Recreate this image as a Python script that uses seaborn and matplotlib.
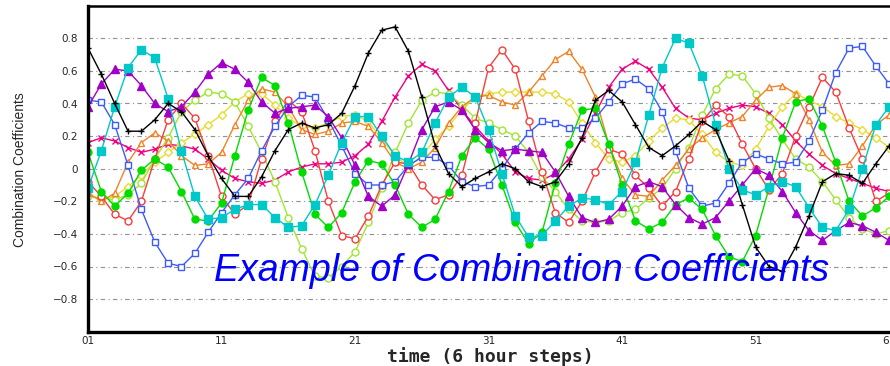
import numpy as np
import pandas as pd
import seaborn as sns
import matplotlib.pyplot as plt

# time steps 1..61
steps = list(range(1, 62))

black = [0.74, 0.58, 0.40, 0.23, 0.23, 0.30, 0.40, 0.35, 0.24, 0.08,
         -0.06, -0.17, -0.17, -0.05, 0.11, 0.24, 0.28, 0.25, 0.27, 0.34,
         0.51, 0.71, 0.85, 0.87, 0.72, 0.44, 0.14, -0.03, -0.11, -0.06,
         -0.02, 0.03, 0.00, -0.08, -0.11, -0.08, 0.03, 0.19, 0.42, 0.48,
         0.41, 0.27, 0.13, 0.08, 0.14, 0.21, 0.29, 0.24, 0.05, -0.22,
         -0.48, -0.60, -0.63, -0.48, -0.29, -0.08, -0.03, -0.04, -0.09, 0.03, 0.14]
cyan = [-0.12, 0.11, 0.38, 0.62, 0.73, 0.68, 0.43, 0.11, -0.17, -0.31,
        -0.30, -0.25, -0.22, -0.22, -0.30, -0.36, -0.35, -0.22, -0.04, 0.16,
        0.32, 0.32, 0.20, 0.08, 0.04, 0.10, 0.28, 0.44, 0.50, 0.44,
        0.24, -0.03, -0.29, -0.42, -0.41, -0.32, -0.23, -0.18, -0.19, -0.22,
        -0.14, 0.04, 0.33, 0.62, 0.80, 0.77, 0.57, 0.27, 0.00, -0.13,
        -0.16, -0.11, -0.08, -0.11, -0.24, -0.36, -0.38, -0.25, 0.00, 0.27, 0.38]
purple = [0.38, 0.52, 0.61, 0.60, 0.51, 0.40, 0.35, 0.38, 0.47, 0.58,
          0.65, 0.61, 0.53, 0.41, 0.34, 0.37, 0.38, 0.39, 0.32, 0.19,
          0.02, -0.17, -0.23, -0.16, 0.03, 0.24, 0.38, 0.41, 0.36, 0.24,
          0.16, 0.11, 0.12, 0.11, 0.10, -0.02, -0.17, -0.30, -0.33, -0.31,
          -0.23, -0.11, -0.08, -0.11, -0.22, -0.30, -0.34, -0.30, -0.20, -0.10,
          0.00, -0.04, -0.14, -0.27, -0.38, -0.44, -0.38, -0.33, -0.35, -0.39, -0.44]
blue = [0.42, 0.41, 0.27, 0.02, -0.25, -0.45, -0.58, -0.60, -0.52, -0.39,
        -0.27, -0.16, -0.06, 0.11, 0.26, 0.38, 0.45, 0.44, 0.30, 0.14,
        -0.03, -0.10, -0.10, -0.08, 0.02, 0.07, 0.07, 0.02, -0.08, -0.11,
        -0.10, 0.00, 0.12, 0.22, 0.29, 0.28, 0.25, 0.25, 0.31, 0.41,
        0.52, 0.55, 0.49, 0.35, 0.11, -0.12, -0.23, -0.21, -0.09, 0.04,
        0.09, 0.06, 0.03, 0.04, 0.17, 0.36, 0.59, 0.74, 0.75, 0.63, 0.52]
red = [-0.08, -0.17, -0.28, -0.32, -0.20, 0.06, 0.30, 0.40, 0.31, 0.08,
       -0.17, -0.28, -0.22, 0.06, 0.29, 0.42, 0.35, 0.11, -0.20, -0.41,
       -0.43, -0.29, -0.10, 0.04, 0.03, -0.10, -0.19, -0.16, -0.04, 0.28,
       0.62, 0.73, 0.61, 0.29, -0.02, -0.27, -0.33, -0.20, -0.02, 0.12,
       0.09, -0.04, -0.12, -0.23, -0.14, 0.06, 0.29, 0.39, 0.32, 0.15,
       0.00, -0.13, -0.03, 0.20, 0.38, 0.56, 0.47, 0.25, 0.06, -0.20, -0.15]
orange = [-0.15, -0.20, -0.15, 0.04, 0.16, 0.22, 0.17, 0.08, 0.02, 0.03,
          0.10, 0.27, 0.42, 0.49, 0.47, 0.38, 0.24, 0.21, 0.23, 0.28,
          0.29, 0.26, 0.16, 0.04, 0.00, 0.04, 0.13, 0.28, 0.38, 0.44,
          0.45, 0.41, 0.39, 0.47, 0.57, 0.67, 0.72, 0.61, 0.44, 0.15,
          -0.06, -0.16, -0.17, -0.07, 0.02, 0.12, 0.19, 0.24, 0.28, 0.32,
          0.42, 0.50, 0.51, 0.46, 0.30, 0.10, 0.02, 0.03, 0.14, 0.27, 0.33]
lightgreen = [-0.17, -0.18, -0.19, -0.16, -0.09, 0.06, 0.19, 0.35, 0.42, 0.47,
              0.46, 0.41, 0.26, 0.10, -0.08, -0.30, -0.49, -0.66, -0.67, -0.60,
              -0.51, -0.33, -0.12, 0.10, 0.28, 0.42, 0.47, 0.46, 0.39, 0.31,
              0.28, 0.24, 0.20, 0.10, -0.05, -0.14, -0.25, -0.32, -0.33, -0.32,
              -0.27, -0.25, -0.18, -0.12, 0.00, 0.13, 0.33, 0.49, 0.58, 0.57,
              0.46, 0.31, 0.18, 0.06, 0.01, -0.08, -0.19, -0.30, -0.37, -0.40, -0.38]
yellow = [-0.16, -0.19, -0.17, -0.11, -0.04, 0.04, 0.10, 0.16, 0.21, 0.27,
          0.33, 0.41, 0.46, 0.46, 0.39, 0.31, 0.26, 0.25, 0.28, 0.32,
          0.33, 0.29, 0.18, 0.08, 0.01, 0.08, 0.18, 0.26, 0.36, 0.44,
          0.46, 0.47, 0.47, 0.47, 0.47, 0.46, 0.41, 0.28, 0.16, 0.06,
          0.04, 0.08, 0.17, 0.25, 0.31, 0.30, 0.21, 0.10, 0.04, 0.02,
          0.12, 0.26, 0.38, 0.46, 0.42, 0.38, 0.32, 0.28, 0.24, 0.19, 0.13]
pink = [0.16, 0.19, 0.17, 0.13, 0.10, 0.12, 0.15, 0.14, 0.12, 0.06,
        -0.01, -0.06, -0.08, -0.09, -0.07, -0.02, 0.01, 0.03, 0.03, 0.04,
        0.08, 0.15, 0.29, 0.44, 0.57, 0.64, 0.60, 0.48, 0.36, 0.26,
        0.17, 0.09, -0.02, -0.06, -0.07, -0.03, 0.06, 0.18, 0.34, 0.50,
        0.61, 0.66, 0.61, 0.50, 0.37, 0.31, 0.30, 0.34, 0.37, 0.39,
        0.38, 0.34, 0.27, 0.17, 0.09, 0.02, -0.03, -0.06, -0.09, -0.12, -0.14]
green = [0.10, -0.14, -0.23, -0.15, -0.01, 0.06, 0.01, -0.14, -0.31, -0.32,
         -0.21, 0.08, 0.36, 0.56, 0.51, 0.28, -0.02, -0.28, -0.36, -0.27,
         -0.08, 0.05, 0.03, -0.10, -0.28, -0.36, -0.31, -0.14, 0.08, 0.19,
         0.12, -0.10, -0.33, -0.46, -0.39, -0.09, 0.15, 0.36, 0.37, 0.15,
         -0.10, -0.32, -0.37, -0.33, -0.22, -0.18, -0.25, -0.41, -0.54, -0.57,
         -0.41, -0.12, 0.19, 0.41, 0.43, 0.26, 0.04, -0.20, -0.29, -0.24, -0.17]

xtick_pos = [1, 11, 21, 31, 41, 51, 61]
xtick_lab = ['01', '11', '21', '31', '41', '51', '61']
ytick_pos = [-0.8, -0.6, -0.4, -0.2, 0, 0.2, 0.4, 0.6, 0.8]
ytick_lab = ['\u22120.8', '\u22120.6', '\u22120.4', '\u22120.2', '0', '0.2', '0.4', '0.6', '0.8']

# (values, colour, marker, filled, size)
series = [
    (pink, '#f00082', 'x', True, 4),
    (yellow, '#e6dc32', 'D', False, 4),
    (lightgreen, '#a0e632', 'o', False, 5),
    (orange, '#f08228', '^', False, 5),
    (red, '#fa3c3c', 'o', False, 5),
    (blue, '#3c5aff', 's', False, 5),
    (green, '#00dc00', 'o', True, 5),
    (purple, '#a000c8', '^', True, 5.5),
    (cyan, '#00c8c8', 's', True, 5.5),
    (black, '#000000', '+', True, 5),
]

sns.set_style('white')
fig = plt.figure(figsize=(8.9, 3.66), dpi=100)
ax = fig.add_axes([88 / 890, 34.3 / 366, (902.5 - 88) / 890, 326 / 366])

for vals, col, mk, filled, ms in series:
    sns.lineplot(x=steps, y=vals, ax=ax, color=col, linewidth=1.0,
                 marker=mk, markersize=ms,
                 markerfacecolor=col if filled else 'white',
                 markeredgecolor=col, markeredgewidth=1.0)

ax.set_xlim(1, 62)
ax.set_ylim(-1, 1)
ax.set_xticks(xtick_pos)
ax.set_xticklabels(xtick_lab, fontsize=7.5)
ax.set_yticks(ytick_pos)
ax.set_yticklabels(ytick_lab, fontsize=7.5)
ax.tick_params(axis='y', length=4, width=1, direction='out', pad=3)
ax.tick_params(axis='x', length=0, pad=3)
ax.yaxis.grid(True, color='#909090', linestyle=(0, (4, 3, 1, 3)), linewidth=0.8)
ax.xaxis.grid(False)
ax.set_axisbelow(True)
for side in ['left', 'bottom']:
    ax.spines[side].set_linewidth(2.4)
ax.spines['top'].set_linewidth(1.8)
ax.spines['right'].set_visible(False)
for s in ax.spines.values():
    s.set_color('black')

ax.text(10.4, -0.69, 'Example of Combination Coefficients', color='#0000ff',
        fontsize=27, style='italic', family=['Liberation Sans', 'DejaVu Sans'],
        ha='left', va='baseline')

fig.text(20 / 890, 1 - 170 / 366, 'Combination Coefficients', rotation=90,
         ha='center', va='center', fontsize=10,
         family=['Liberation Sans Narrow', 'Liberation Sans', 'DejaVu Sans'])
fig.text(490 / 890, 1 - 357 / 366, 'time (6 hour steps)', ha='center',
         va='center', fontsize=13, weight='bold', family='DejaVu Sans Mono')

fig.savefig('out.png', dpi=100)
